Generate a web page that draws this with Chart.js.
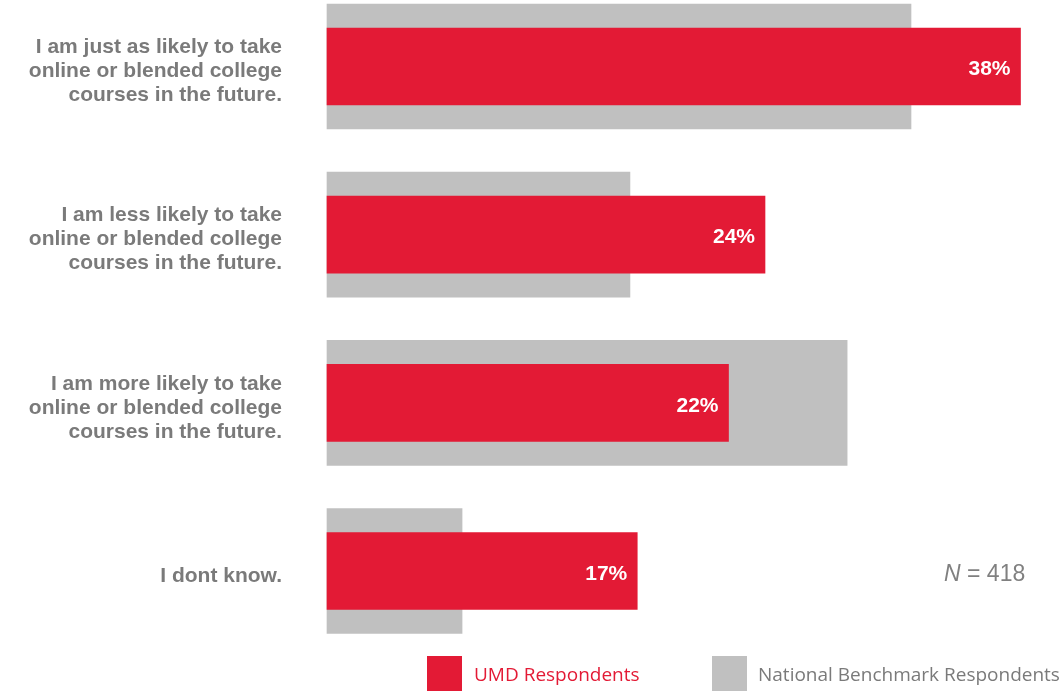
<!DOCTYPE html>
<html>
<head>
<meta charset="utf-8">
<script src="https://cdn.jsdelivr.net/npm/chart.js@4.4.0/dist/chart.umd.min.js"></script>
<style>
  html, body { margin: 0; padding: 0; background: #fff; }
  #wrap { position: relative; width: 1062px; height: 691px; overflow: hidden; }
  #grafico { position: absolute; left: 0; top: 0; }
  .leg-box { position: absolute; width: 35px; height: 35px; top: 656px; }
  .leg-txt { position: absolute; top: 661px; font-family: "Open Sans", sans-serif; font-size: 19px; white-space: nowrap; }
  #amostra { position: absolute; left: 944px; top: 560px; font-family: "Liberation Sans", Arial, sans-serif; font-size: 23px; color: #808080; }
</style>
</head>
<body>
<div id="wrap">
  <canvas id="grafico" width="1062" height="691"></canvas>
  <div class="leg-box" style="left:427px;background:#e31a35;"></div>
  <div class="leg-txt" style="left:474px;color:#e31a35;">UMD Respondents</div>
  <div class="leg-box" style="left:712px;background:#c0c0c0;"></div>
  <div class="leg-txt" style="left:758px;color:#7a7a7a;">National Benchmark Respondents</div>
  <div id="amostra"><i>N</i> = 418</div>
</div>
<script>
// respostas da pesquisa (em %)
const categorias = [
    ['I am just as likely to take', 'online or blended college', 'courses in the future.'],
    ['I am less likely to take', 'online or blended college', 'courses in the future.'],
    ['I am more likely to take', 'online or blended college', 'courses in the future.'],
    'I dont know.'
];
const umdValores = [38, 24, 22, 17];
const nacionalValores = [32, 16.6, 28.5, 7.4];

const vermelho = '#e31a35';
const cinza = '#c0c0c0';

// escreve o percentual dentro da barra vermelha
const rotulosValor = {
    id: 'rotulosValor',
    afterDatasetsDraw(chart) {
        const ctx = chart.ctx;
        const meta = chart.getDatasetMeta(0);
        ctx.save();
        ctx.fillStyle = '#ffffff';
        ctx.font = 'bold 21px "Liberation Sans", Arial, sans-serif';
        ctx.textAlign = 'right';
        ctx.textBaseline = 'middle';
        meta.data.forEach(function (bar, i) {
            ctx.fillText(umdValores[i] + '%', bar.x - 10, bar.y + 3);
        });
        ctx.restore();
    }
};

const ctx = document.getElementById('grafico');
new Chart(ctx, {
    type: 'bar',
    data: {
        labels: categorias,
        datasets: [
            {
                label: 'UMD Respondents',
                data: umdValores,
                backgroundColor: vermelho,
                barThickness: 77,
                grouped: false,
                clip: false,
                order: 0
            },
            {
                label: 'National Benchmark Respondents',
                data: nacionalValores,
                backgroundColor: cinza,
                barThickness: 125,
                grouped: false,
                clip: false,
                order: 1
            }
        ]
    },
    options: {
        indexAxis: 'y',
        responsive: false,
        animation: false,
        layout: { padding: { top: 66.5, bottom: 120, right: 5, left: 0 } },
        scales: {
            x: { display: false, min: 0, max: 40 },
            y: {
                offset: false,
                grid: { display: false },
                border: { display: false },
                ticks: {
                    padding: 37,
                    labelOffset: 5,
                    color: '#7a7a7a',
                    font: { family: '"Liberation Sans", Arial, sans-serif', size: 21, weight: 'bold', lineHeight: 1.143 }
                },
                afterFit: function (scale) { scale.width = 327; }
            }
        },
        plugins: {
            legend: { display: false },
            tooltip: { enabled: false }
        }
    },
    plugins: [rotulosValor]
});
</script>
</body>
</html>
